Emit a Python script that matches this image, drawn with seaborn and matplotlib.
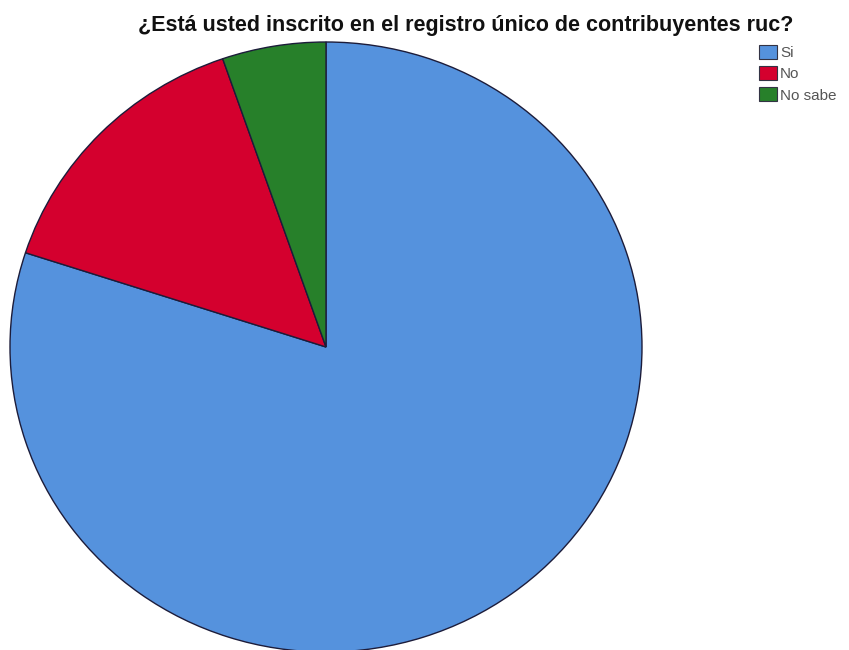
import matplotlib
matplotlib.use("Agg")
import matplotlib.pyplot as plt
import seaborn as sns

# -----------------------------
# Data
# -----------------------------
categories = ["Si", "No", "No sabe"]
percentages = [80.0, 14.7, 5.3]
slice_colors = ["#5592dd", "#d4002e", "#27802a"]
title_text = "¿Está usted inscrito en el registro único de contribuyentes ruc?"

# -----------------------------
# Style
# -----------------------------
sns.set_style("white")
plt.rcParams["font.family"] = ["Liberation Sans", "DejaVu Sans"]

fig = plt.figure(figsize=(8.49, 6.5), dpi=100)

# pie drawn slightly wider than tall, like the SPSS export
ax = fig.add_axes([10 / 849, -2 / 650, 632 / 849, 610 / 650])
wedges, _ = ax.pie(
    percentages,
    colors=slice_colors,
    startangle=90,
    counterclock=False,
    wedgeprops=dict(edgecolor="#1c1c3a", linewidth=1.0),
)
ax.set_aspect("auto")
ax.set_xlim(-1, 1)
ax.set_ylim(-1, 1)
ax.axis("off")

fig.text(466 / 849, 1 - 25 / 650, title_text, ha="center", va="center",
         fontsize=15.5, fontweight="bold", color="#111111")

leg = fig.legend(
    wedges, categories,
    loc="upper left", bbox_to_anchor=(759 / 849, 1 - 45 / 650),
    frameon=False, fontsize=11, borderpad=0, borderaxespad=0,
    handlelength=1.18, handleheight=1.05, handletextpad=0.2,
    labelspacing=0.38,
)
for t in leg.get_texts():
    t.set_color("#555555")
for h in leg.legend_handles:
    h.set_edgecolor("#333344")
    h.set_linewidth(0.8)

fig.savefig("out.png", dpi=100)
plt.close(fig)
